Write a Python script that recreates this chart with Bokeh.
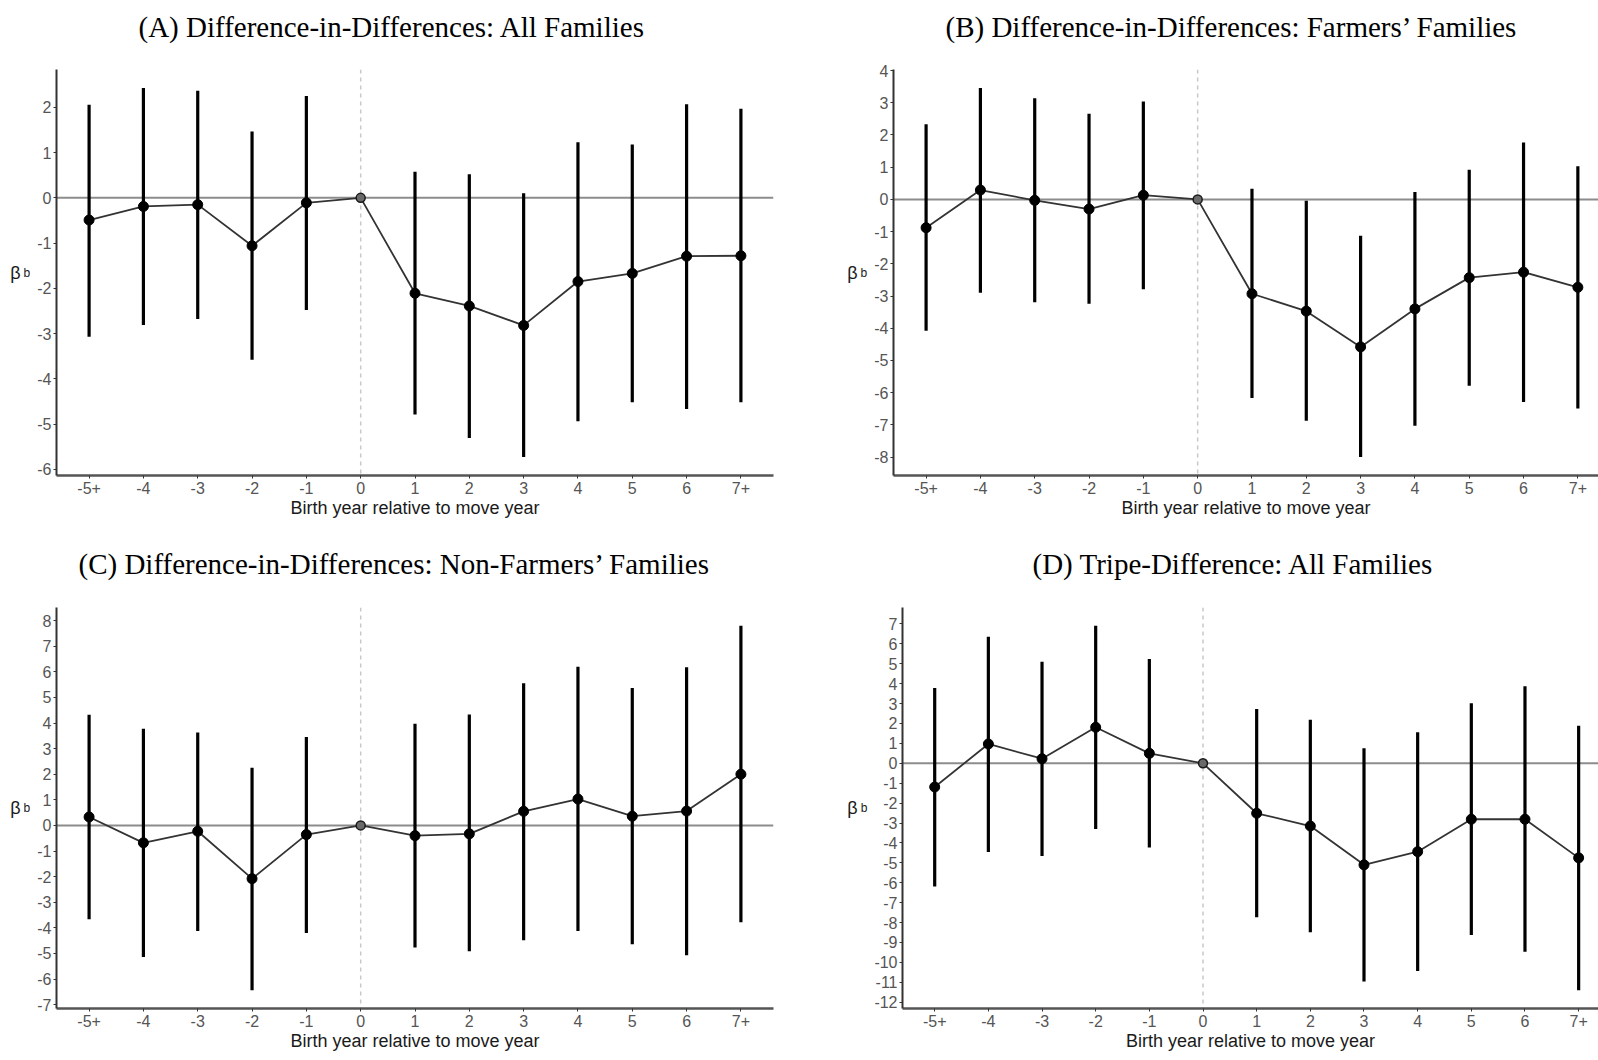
from bokeh.plotting import figure
from bokeh.models import Range1d, FixedTicker, Span, ColumnDataSource, LinearAxis, Title
from bokeh.layouts import column, row
from bokeh.embed import file_html
from bokeh.resources import INLINE

categories = ["-5+", "-4", "-3", "-2", "-1", "0", "1", "2", "3", "4", "5", "6", "7+"]
x_axis_title = "Birth year relative to move year"

title_a = "(A) Difference-in-Differences: All Families"
est_a = [-0.49, -0.19, -0.15, -1.06, -0.11, 0.0, -2.11, -2.39, -2.82, -1.85, -1.67, -1.29, -1.28]
lo_a = [-3.07, -2.81, -2.68, -3.58, -2.48, 0.0, -4.79, -5.31, -5.73, -4.94, -4.52, -4.67, -4.52]
hi_a = [2.06, 2.43, 2.37, 1.47, 2.25, 0.0, 0.58, 0.52, 0.10, 1.23, 1.18, 2.07, 1.97]
yticks_a = [-6, -5, -4, -3, -2, -1, 0, 1, 2]

title_b = "(B) Difference-in-Differences: Farmers\u2019 Families"
est_b = [-0.88, 0.29, -0.03, -0.30, 0.13, 0.0, -2.93, -3.47, -4.58, -3.40, -2.43, -2.26, -2.73]
lo_b = [-4.08, -2.90, -3.19, -3.24, -2.79, 0.0, -6.17, -6.87, -8.00, -7.03, -5.79, -6.29, -6.49]
hi_b = [2.33, 3.46, 3.14, 2.66, 3.04, 0.0, 0.33, -0.04, -1.13, 0.23, 0.92, 1.77, 1.03]
yticks_b = [-8, -7, -6, -5, -4, -3, -2, -1, 0, 1, 2, 3, 4]

title_c = "(C) Difference-in-Differences: Non-Farmers\u2019 Families"
est_c = [0.33, -0.68, -0.23, -2.08, -0.36, 0.0, -0.40, -0.33, 0.55, 1.03, 0.36, 0.56, 2.00]
lo_c = [-3.67, -5.14, -4.12, -6.44, -4.20, 0.0, -4.77, -4.92, -4.49, -4.12, -4.64, -5.07, -3.78]
hi_c = [4.32, 3.78, 3.63, 2.25, 3.45, 0.0, 3.97, 4.33, 5.55, 6.20, 5.37, 6.18, 7.80]
yticks_c = [-7, -6, -5, -4, -3, -2, -1, 0, 1, 2, 3, 4, 5, 6, 7, 8]

title_d = "(D) Tripe-Difference: All Families"
est_d = [-1.19, 0.97, 0.23, 1.81, 0.50, 0.0, -2.51, -3.15, -5.10, -4.44, -2.81, -2.81, -4.75]
lo_d = [-6.19, -4.45, -4.65, -3.30, -4.23, 0.0, -7.73, -8.49, -10.96, -10.43, -8.62, -9.47, -11.40]
hi_d = [3.78, 6.36, 5.10, 6.91, 5.24, 0.0, 2.73, 2.19, 0.75, 1.56, 3.01, 3.87, 1.89]
yticks_d = [-12, -11, -10, -9, -8, -7, -6, -5, -4, -3, -2, -1, 0, 1, 2, 3, 4, 5, 6, 7]

y_label_main = "\u03b2"
y_label_sub = "b"

SANS = "Liberation Sans"
SERIF = "Liberation Serif"


def panel(title, est, lo, hi, yticks, border_left, frame_w, border_right,
          border_top, frame_h, border_bottom, x_end, title_offset, title_gap, sub_standoff):
    xs = list(range(1, len(categories) + 1))
    ylo = min(lo + est)
    yhi = max(hi + est)
    pad = 0.05 * (yhi - ylo)
    p = figure(output_backend="svg", toolbar_location=None,
               frame_width=frame_w, frame_height=frame_h,
               min_border_left=border_left, min_border_right=border_right,
               min_border_top=border_top, min_border_bottom=border_bottom,
               x_range=Range1d(0.4, x_end), y_range=Range1d(ylo - pad, yhi + pad))
    p.outline_line_color = None
    p.background_fill_color = "white"
    p.border_fill_color = "white"
    p.xgrid.visible = False
    p.ygrid.visible = False
    p.title.text = ""
    p.title.standoff = 0

    xa = p.below[0]
    ya = p.left[0]

    zero_idx = categories.index("0") + 1
    p.add_layout(Span(location=0, dimension="width", line_color="#8c8c8c",
                      line_width=2, level="underlay"))
    p.add_layout(Span(location=zero_idx, dimension="height", line_color="#c8c8c8",
                      line_width=1.5, line_dash="4 4", level="underlay"))

    src = ColumnDataSource(dict(x=xs, est=est, lo=lo, hi=hi))
    p.segment(x0="x", y0="lo", x1="x", y1="hi", source=src, line_color="black", line_width=3.2)
    p.line(x="x", y="est", source=src, line_color="#333333", line_width=1.8)
    nz = [i for i in range(len(xs)) if categories[i] != "0"]
    p.scatter([xs[i] for i in nz], [est[i] for i in nz], size=10, marker="circle",
              fill_color="black", line_color="black")
    p.scatter([zero_idx], [est[zero_idx - 1]], size=9, marker="circle",
              fill_color="#6a6a6a", line_color="#1a1a1a", line_width=1.5)

    xa.ticker = FixedTicker(ticks=xs)
    xa.major_label_overrides = {x: c for x, c in zip(xs, categories)}
    xa.minor_tick_line_color = None
    xa.major_tick_in = 0
    xa.major_tick_out = 3
    xa.major_tick_line_color = "#333333"
    xa.axis_line_color = "#555555"
    xa.axis_line_width = 2.5
    xa.major_label_text_font = SANS
    xa.major_label_text_font_size = "16px"
    xa.major_label_text_color = "#555555"
    xa.major_label_standoff = 3
    xa.axis_label = x_axis_title
    xa.axis_label_text_font = SANS
    xa.axis_label_text_font_size = "18px"
    xa.axis_label_text_font_style = "normal"
    xa.axis_label_text_color = "#1a1a1a"
    xa.axis_label_standoff = 1

    ya.ticker = FixedTicker(ticks=yticks)
    ya.major_label_overrides = {t: str(t) for t in yticks}
    ya.minor_tick_line_color = None
    ya.major_tick_in = 0
    ya.major_tick_out = 3
    ya.major_tick_line_color = "#333333"
    ya.axis_line_color = "#333333"
    ya.axis_line_width = 2
    ya.major_label_text_font = SANS
    ya.major_label_text_font_size = "16px"
    ya.major_label_text_color = "#555555"
    ya.major_label_standoff = 2
    ya.axis_label = y_label_sub
    ya.axis_label_orientation = "horizontal"
    ya.axis_label_text_font = SANS
    ya.axis_label_text_font_size = "12px"
    ya.axis_label_text_font_style = "normal"
    ya.axis_label_text_color = "#1a1a1a"
    ya.axis_label_standoff = sub_standoff

    beta_axis = LinearAxis(ticker=FixedTicker(ticks=[]), axis_line_color=None,
                           major_tick_line_color=None, minor_tick_line_color=None,
                           major_tick_out=0, major_tick_in=0, major_label_standoff=0,
                           axis_label=y_label_main, axis_label_orientation="horizontal",
                           axis_label_text_font=SANS, axis_label_text_font_size="18px",
                           axis_label_text_font_style="normal",
                           axis_label_text_color="#1a1a1a", axis_label_standoff=0)
    p.add_layout(beta_axis, "left")

    # invisible spacer between the frame and the title (one hidden tick)
    spacer = LinearAxis(ticker=FixedTicker(ticks=[xs[0]]), axis_line_color=None,
                        major_tick_line_color=None, minor_tick_line_color=None,
                        major_tick_out=title_gap, major_tick_in=0, major_label_standoff=0,
                        major_label_overrides={xs[0]: ""},
                        major_label_text_font_size="1px", major_label_text_alpha=0)
    p.add_layout(spacer, "above")
    p.add_layout(Title(text=title, align="left", offset=title_offset, standoff=4,
                       text_font=SERIF, text_font_size="29px", text_font_style="normal",
                       text_color="black"), "above")
    return p


pa = panel(title_a, est_a, lo_a, hi_a, yticks_a, 56, 717, 27, 69, 406, 55, 13.6, 82, 25, 4)
pb = panel(title_b, est_b, lo_b, hi_b, yticks_b, 93, 705, 0, 69, 406, 55, 13.38, 52, 25, 4)
pc = panel(title_c, est_c, lo_c, hi_c, yticks_c, 56, 717, 27, 77, 401, 45, 13.6, 22, 26, 4)
pd = panel(title_d, est_d, lo_d, hi_d, yticks_d, 102, 696, 0, 77, 401, 45, 13.37, 130, 26, 4)

layout = column(row(pa, pb), row(pc, pd))
open("out.html", "w").write(file_html(layout, INLINE))
